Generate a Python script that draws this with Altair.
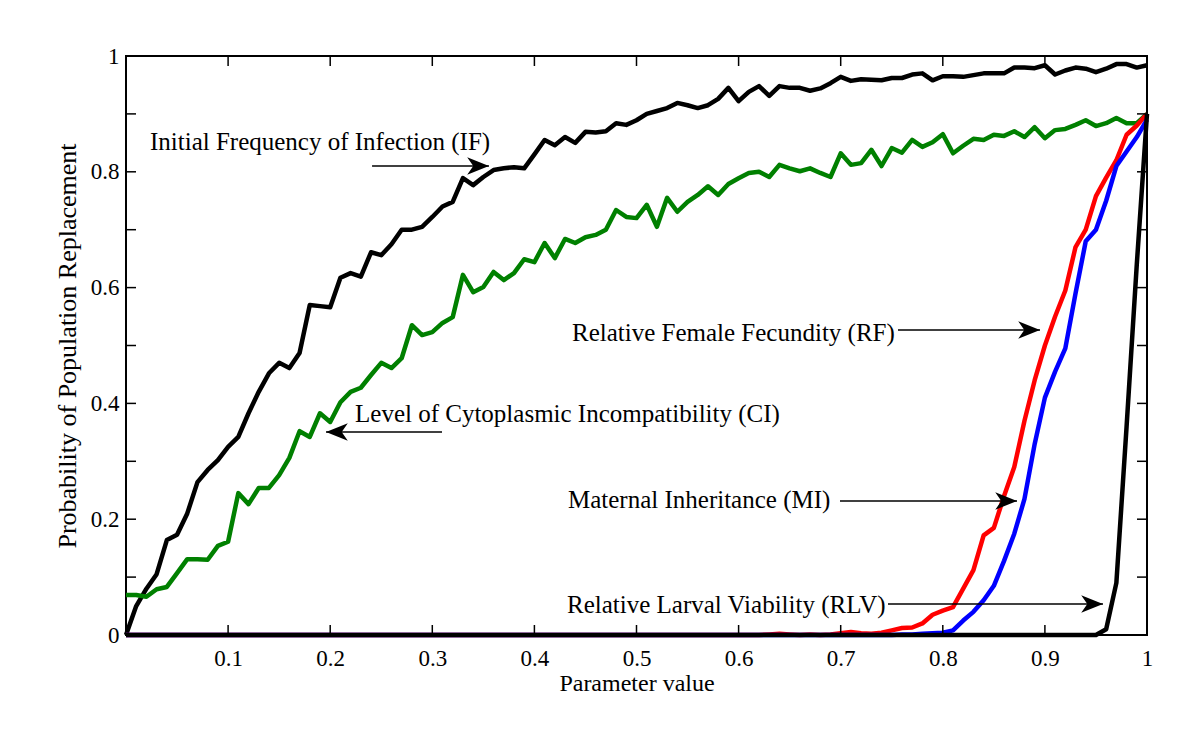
import altair as alt
import pandas as pd

# ---------------- data ----------------
param = [round(i * 0.01, 2) for i in range(101)]

IF = [0.0, 0.05, 0.08, 0.105, 0.164, 0.173, 0.21, 0.264, 0.285, 0.302,
      0.325, 0.342, 0.383, 0.42, 0.452, 0.47, 0.461, 0.487, 0.57, 0.568,
      0.566, 0.617, 0.625, 0.619, 0.661, 0.656, 0.675, 0.70, 0.70, 0.705,
      0.722, 0.74, 0.748, 0.789, 0.777, 0.791, 0.803, 0.806, 0.808, 0.806,
      0.83, 0.855, 0.846, 0.86, 0.85, 0.869, 0.868, 0.870, 0.884, 0.881,
      0.889, 0.90, 0.905, 0.91, 0.919, 0.915, 0.91, 0.915, 0.926, 0.945,
      0.922, 0.938, 0.948, 0.931, 0.948, 0.945, 0.945, 0.94, 0.944, 0.953,
      0.964, 0.957, 0.96, 0.959, 0.958, 0.962, 0.962, 0.968, 0.97, 0.958,
      0.965, 0.965, 0.964, 0.967, 0.97, 0.97, 0.97, 0.98, 0.98, 0.979,
      0.984, 0.968, 0.975, 0.98, 0.978, 0.972, 0.978, 0.986, 0.986, 0.98,
      0.984]

CI = [0.069, 0.069, 0.066, 0.079, 0.083, 0.107, 0.131, 0.131, 0.13, 0.154,
      0.161, 0.245, 0.226, 0.254, 0.254, 0.276, 0.306, 0.352, 0.342, 0.383,
      0.368, 0.402, 0.42, 0.427, 0.449, 0.47, 0.461, 0.478, 0.535, 0.518,
      0.523, 0.539, 0.549, 0.622, 0.592, 0.601, 0.627, 0.613, 0.625, 0.649,
      0.644, 0.677, 0.651, 0.684, 0.677, 0.687, 0.691, 0.70, 0.734, 0.722,
      0.72, 0.743, 0.705, 0.755, 0.731, 0.748, 0.76, 0.775, 0.76, 0.779,
      0.789, 0.798, 0.80, 0.791, 0.812, 0.806, 0.801, 0.806, 0.798, 0.791,
      0.832, 0.812, 0.815, 0.838, 0.81, 0.841, 0.833, 0.855, 0.843, 0.851,
      0.865, 0.832, 0.845, 0.857, 0.855, 0.864, 0.862, 0.87, 0.86, 0.877,
      0.858, 0.872, 0.874, 0.881, 0.889, 0.879, 0.884, 0.893, 0.884, 0.884,
      0.90]

RF = [0.0] * 63 + [
      0.001, 0.002, 0.001, 0.0, 0.001, 0.0, 0.001,
      0.003, 0.005, 0.003, 0.002, 0.004, 0.008, 0.012, 0.013, 0.02, 0.035,
      0.042, 0.048, 0.08, 0.112, 0.172, 0.185, 0.24, 0.29, 0.37, 0.44,
      0.50, 0.55, 0.595, 0.67, 0.70, 0.758, 0.79, 0.82, 0.864, 0.88,
      0.90]

MI = [0.0] * 76 + [
      0.001, 0.001, 0.002, 0.003,
      0.004, 0.008, 0.025, 0.04, 0.06, 0.085, 0.128, 0.175, 0.235, 0.33,
      0.41, 0.455, 0.495, 0.59, 0.68, 0.70, 0.75, 0.81, 0.835, 0.86,
      0.89]

RLV = [0.0] * 96 + [0.01, 0.09, 0.36, 0.64, 0.90]

x_ticks = [0.1, 0.2, 0.3, 0.4, 0.5, 0.6, 0.7, 0.8, 0.9]
y_ticks = [0.1, 0.2, 0.3, 0.4, 0.5, 0.6, 0.7, 0.8, 0.9]
x_labels = [0.1, 0.2, 0.3, 0.4, 0.5, 0.6, 0.7, 0.8, 0.9, 1.0]
y_labels = [0.0, 0.2, 0.4, 0.6, 0.8, 1.0]

ann_text = ["Initial Frequency of Infection (IF)",
            "Level of Cytoplasmic Incompatibility (CI)",
            "Relative Female Fecundity (RF)",
            "Maternal Inheritance (MI)",
            "Relative Larval Viability (RLV)"]
ann_tx = [0.0235, 0.2243, 0.4368, 0.4329, 0.4319]
ann_ty = [0.851, 0.382, 0.5216, 0.2332, 0.0518]
arr_x0 = [0.241, 0.3095, 0.7561, 0.6993, 0.7463]
arr_x1 = [0.3555, 0.1959, 0.8952, 0.8727, 0.9569]
arr_y = [0.81, 0.3506, 0.5268, 0.2314, 0.0535]
arr_angle = [0, 180, 0, 0, 0]

# ---------------- chart ----------------
W, H = 1021, 579
FONT = "Liberation Serif"

df = pd.DataFrame({"x": param, "IF": IF, "CI": CI, "RF": RF, "MI": MI, "RLV": RLV})

xscale = alt.Scale(domain=[0, 1], nice=False, zero=False)
yscale = alt.Scale(domain=[0, 1], nice=False, zero=False)

xaxis = alt.Axis(values=x_labels, labelExpr="datum.value >= 1 ? '1' : format(datum.value, '.1f')",
                 title="Parameter value", labelPadding=12, titlePadding=1)
yaxis = alt.Axis(values=y_labels,
                 labelExpr="datum.value <= 0 ? '0' : datum.value >= 1 ? '1' : format(datum.value, '.1f')",
                 title="Probability of Population Replacement", labelPadding=7, titlePadding=10)


def X(field):
    return alt.X(field, scale=xscale, axis=xaxis, title="Parameter value")


def Y(field):
    return alt.Y(field, scale=yscale, axis=yaxis, title="Probability of Population Replacement")


base = alt.Chart(df)


def series_line(col, color):
    return base.mark_line(color=color, strokeWidth=4.5, clip=False, strokeJoin="round").encode(
        x=X("x:Q"), y=Y(f"{col}:Q"))


lines = [
    series_line("IF", "#000000"),
    series_line("CI", "#008000"),
    series_line("RF", "#ff0000"),
    series_line("MI", "#0000ff"),
    series_line("RLV", "#000000"),
]

xt = alt.Chart(pd.DataFrame({"v": x_ticks}))
yt = alt.Chart(pd.DataFrame({"v": y_ticks}))
tick_style = dict(color="black", strokeWidth=1.5)
ticks = [
    xt.mark_rule(**tick_style).encode(x=X("v:Q"), y=alt.value(H), y2=alt.value(H - 10)),
    xt.mark_rule(**tick_style).encode(x=X("v:Q"), y=alt.value(0), y2=alt.value(10)),
    yt.mark_rule(**tick_style).encode(y=Y("v:Q"), x=alt.value(0), x2=alt.value(10)),
    yt.mark_rule(**tick_style).encode(y=Y("v:Q"), x=alt.value(W), x2=alt.value(W - 10)),
]

ann = alt.Chart(pd.DataFrame({"t": ann_text, "tx": ann_tx, "ty": ann_ty,
                              "x0": arr_x0, "x1": arr_x1, "ay": arr_y, "ang": arr_angle}))
ann_text_layer = ann.mark_text(align="left", baseline="middle", font=FONT, fontSize=25, color="black").encode(
    x=X("tx:Q"), y=Y("ty:Q"), text="t:N")
arrow_lines = ann.mark_rule(color="black", strokeWidth=1.5).encode(
    x=X("x0:Q"), x2="x1:Q", y=Y("ay:Q"))
arrow_heads = ann.mark_point(shape="M0,0 L-1,-0.4 L-0.72,0 L-1,0.4 Z", filled=True, opacity=1,
                             color="black", size=1900, strokeWidth=0).encode(
    x=X("x1:Q"), y=Y("ay:Q"), angle=alt.Angle("ang:Q", scale=None))

chart = alt.layer(*lines, *ticks, arrow_lines, arrow_heads, ann_text_layer).properties(
    width=W, height=H,
    background="white",
    autosize=alt.AutoSizeParams(type="none"),
    padding={"left": 118, "top": 48, "right": 45, "bottom": 90},
).configure_view(
    stroke="black", strokeWidth=2
).configure_axis(
    ticks=False, domain=False, grid=False,
    labelFont=FONT, labelFontSize=23, labelColor="black",
    labelFlush=False, labelOverlap=False,
    titleFont=FONT, titleFontSize=24, titleFontWeight="normal", titleColor="black",
).configure_axisY(titleFontSize=26)

chart.save("out.html", embed_options={"renderer": "svg", "actions": False})
